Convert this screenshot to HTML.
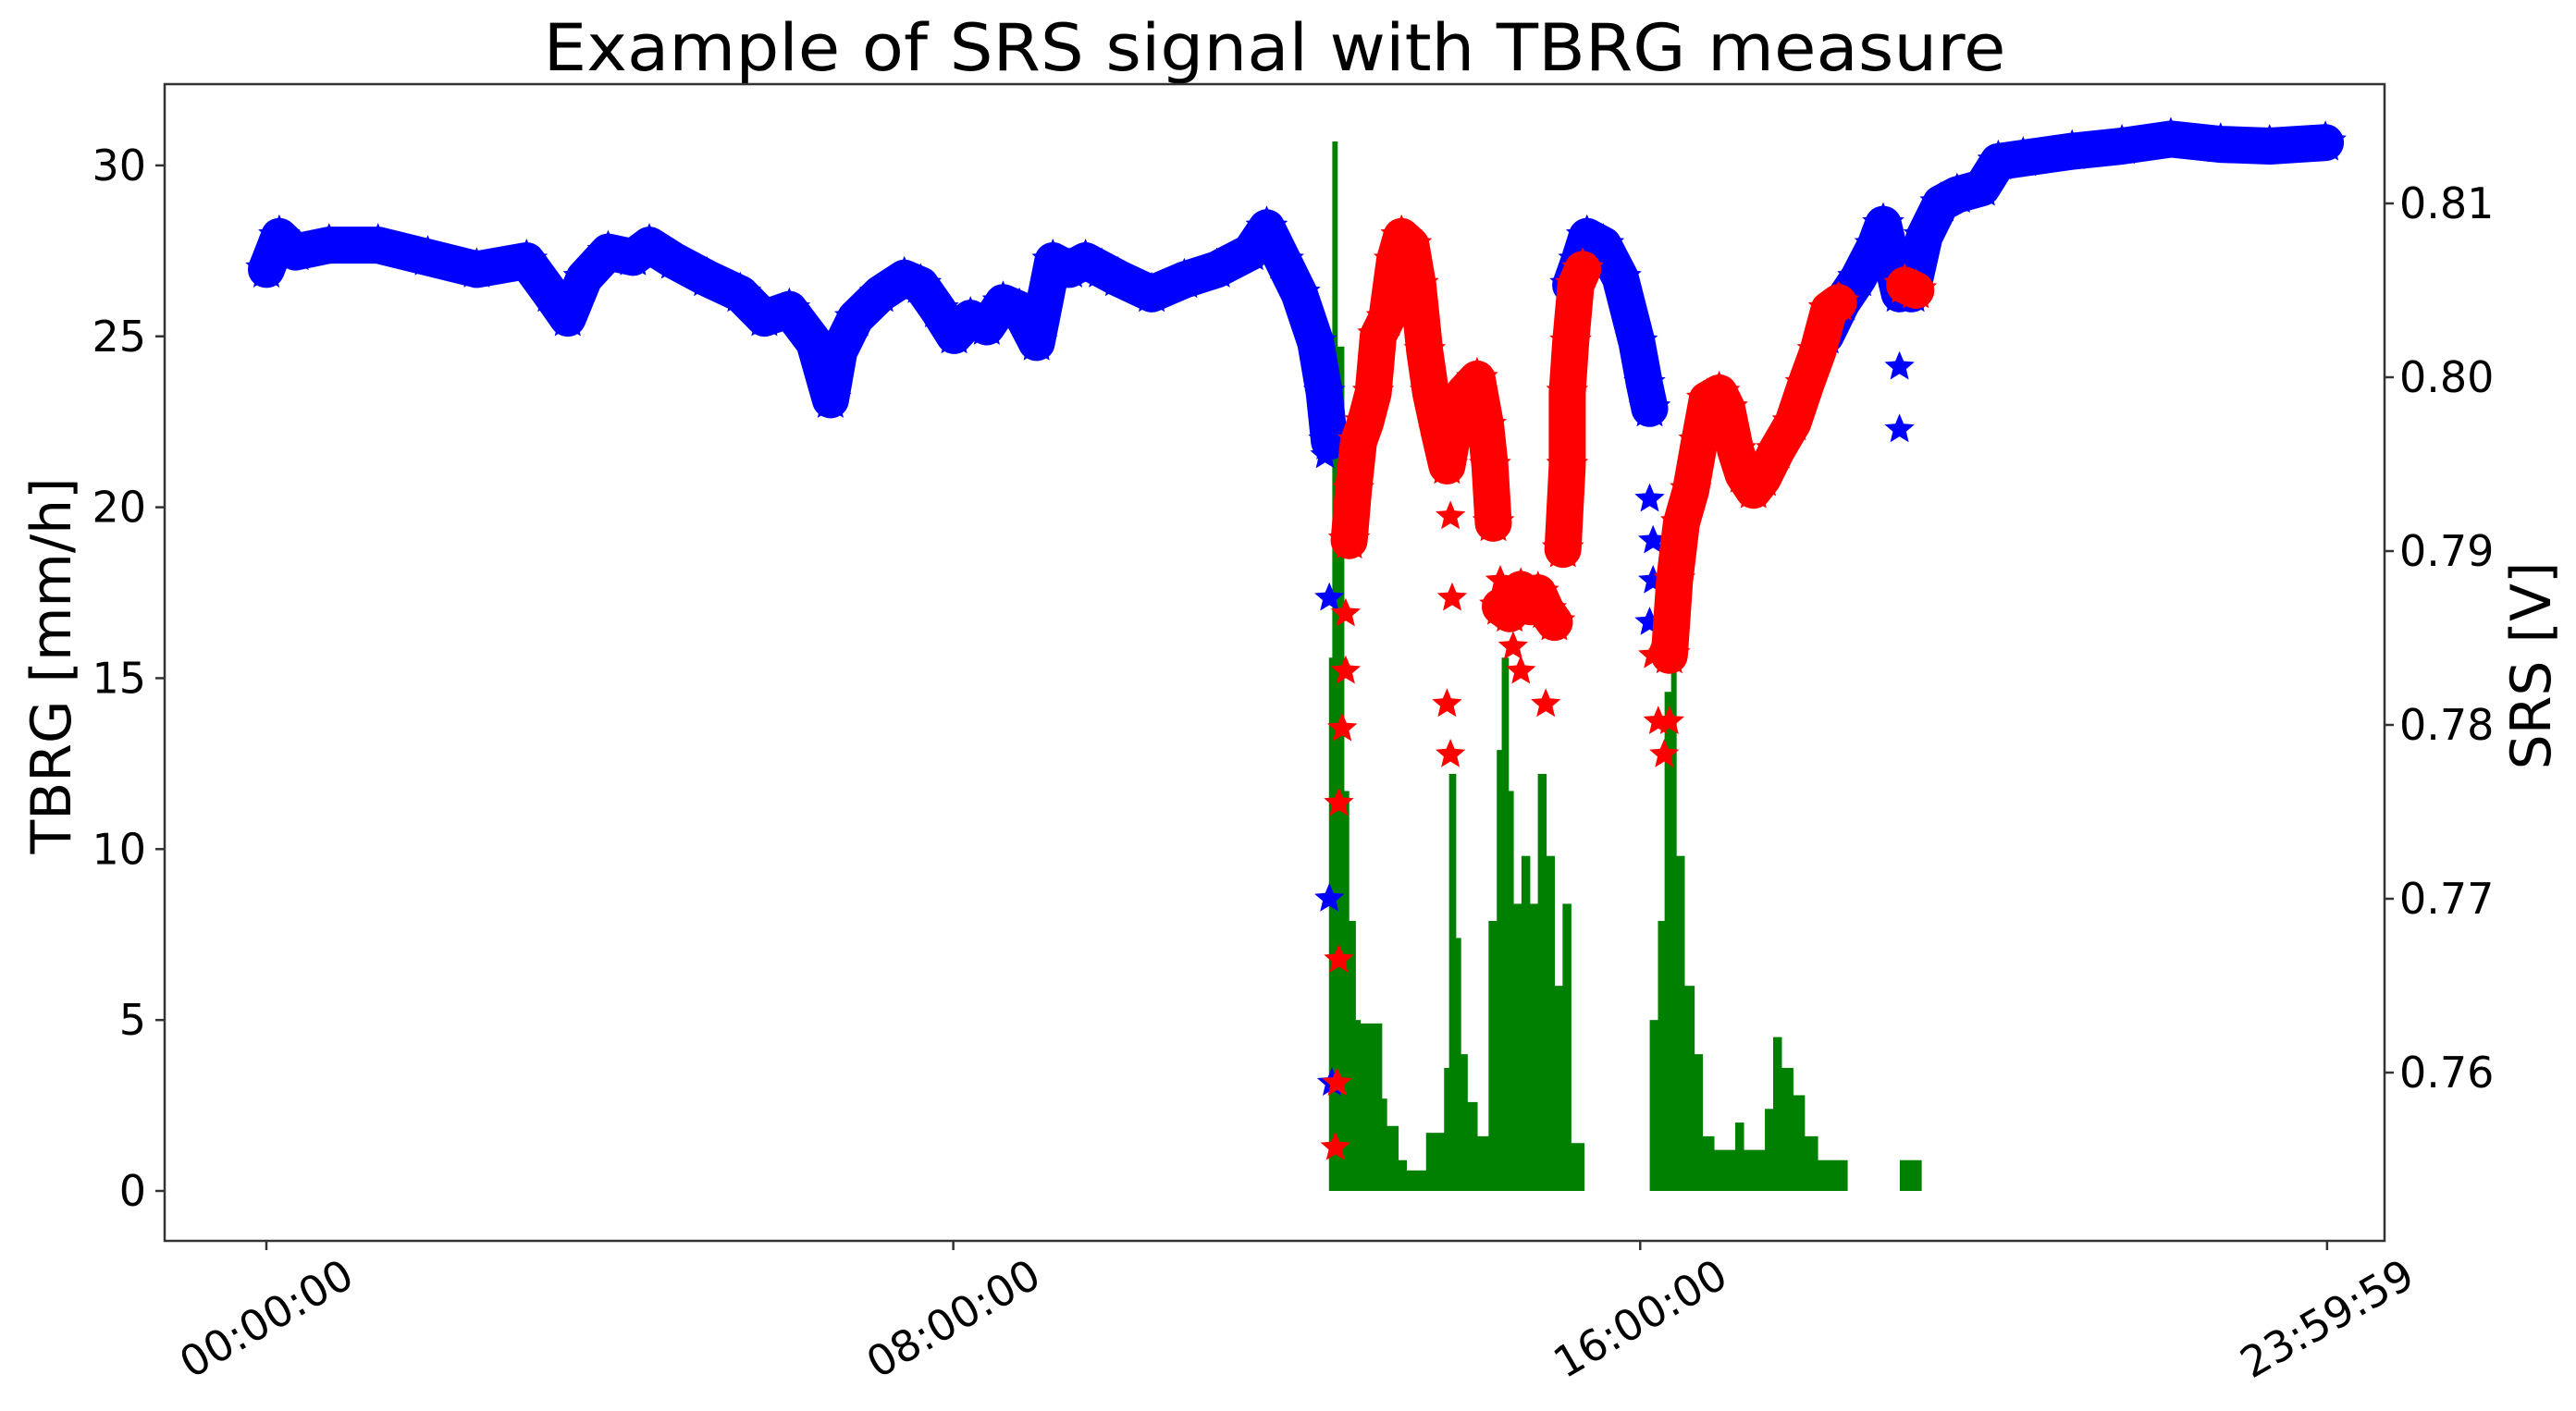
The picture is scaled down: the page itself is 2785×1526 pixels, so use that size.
<!DOCTYPE html>
<html><head><meta charset="utf-8"><style>
html,body{margin:0;padding:0;background:#fff;}
svg{display:block;font-family:"DejaVu Sans","Liberation Sans",sans-serif;}
</style></head><body>
<svg id="chart" width="2785" height="1526" viewBox="0 0 2785 1526" xmlns="http://www.w3.org/2000/svg">
<rect width="2785" height="1526" fill="#fff"/>
<text x="1378" y="76" font-size="70" text-anchor="middle" textLength="1581" lengthAdjust="spacingAndGlyphs">Example of SRS signal with TBRG measure</text>
<g id="bars"></g>
<g id="srs"></g>
<rect x="178" y="91" width="2400" height="1251" fill="none" stroke="#333" stroke-width="2.5"/>
<g id="axes"></g>
<text transform="translate(76,720) rotate(-90)" font-size="60" text-anchor="middle">TBRG [mm/h]</text>
<text transform="translate(2757,720) rotate(-90)" font-size="60" text-anchor="middle">SRS [V]</text>
</svg>
<script>
// TBRG rain bars (hours start/end, mm/h)
const barStart=[12.375,12.414,12.471,12.548,12.605,12.682,12.739,12.816,12.989,13.046,13.18,13.276,13.506,13.716,13.774,13.851,13.908,13.985,14.1,14.234,14.33,14.387,14.464,14.521,14.617,14.713,14.808,14.904,15.0,15.096,15.192,
16.111,16.207,16.284,16.36,16.418,16.513,16.628,16.724,16.858,17.107,17.203,17.452,17.548,17.644,17.778,17.912,18.065,19.023];
const barEnd=[12.414,12.471,12.548,12.605,12.682,12.739,12.816,12.989,13.046,13.18,13.276,13.506,13.716,13.774,13.851,13.908,13.985,14.1,14.234,14.33,14.387,14.464,14.521,14.617,14.713,14.808,14.904,15.0,15.096,15.192,15.345,
16.207,16.284,16.36,16.418,16.513,16.628,16.724,16.858,17.107,17.203,17.452,17.548,17.644,17.778,17.912,18.065,18.41,19.272];
const barValues=[15.6,30.7,24.7,11.7,7.9,5.0,4.9,4.9,2.7,1.9,0.9,0.6,1.7,3.6,12.2,7.4,4.0,2.6,1.6,7.9,12.9,15.6,11.7,8.4,9.8,8.4,12.2,9.8,6.0,8.4,1.4,
5.0,7.9,14.6,16.8,9.8,6.0,4.0,1.6,1.2,2.0,1.2,2.4,4.5,3.6,2.8,1.6,0.9,0.9];
// SRS blue (dry) points; segment id -1 = isolated marker
const blueHours=[0,.15,.34,.73,1.30,1.88,2.45,3.03,3.31,3.51,3.70,3.98,4.27,4.46,4.75,5.13,5.52,5.80,6.09,6.38,6.57,6.67,6.86,7.15,7.43,7.62,7.82,8.01,8.20,8.39,8.58,8.77,8.97,9.16,9.35,9.54,9.73,9.92,10.31,10.69,11.07,11.46,11.65,11.84,12.03,12.22,12.32,12.38,
12.32,12.33,12.38,12.38,12.41,
15.19,15.29,15.38,15.57,15.77,15.96,16.05,16.11,
16.11,16.15,16.15,16.11,
18.16,18.35,18.54,18.74,18.83,18.93,19.02,
19.02,19.02,
19.16,19.31,19.50,19.69,19.98,20.17,20.46,21.03,21.61,22.18,22.76,23.33,23.98];
const blueVolts=[.8062,.8081,.8072,.8076,.8076,.8069,.8062,.8067,.8048,.8034,.8057,.8072,.8069,.8076,.8067,.8057,.8048,.8034,.8039,.802,.7987,.8015,.8034,.8048,.8057,.8053,.8039,.8024,.8034,.8029,.8043,.8039,.802,.8067,.8062,.8067,.8062,.8057,.8048,.8056,.8062,.8072,.8086,.8067,.8048,.802,.7991,.7963,
.7968,.7955,.7873,.77,.7594,
.8053,.8067,.8081,.8076,.8057,.802,.7996,.7982,
.793,.7906,.7883,.7859,
.8024,.8043,.8057,.8076,.8088,.8067,.8048,
.8006,.797,
.8048,.8081,.81,.8105,.8109,.8124,.8126,.813,.8133,.8137,.8134,.8133,.8135];
const blueSeg=[0,0,0,0,0,0,0,0,0,0,0,0,0,0,0,0,0,0,0,0,0,0,0,0,0,0,0,0,0,0,0,0,0,0,0,0,0,0,0,0,0,0,0,0,0,0,0,0,
-1,-1,-1,-1,-1,
1,1,1,1,1,1,1,1,
-1,-1,-1,-1,
2,2,2,2,2,2,2,
-1,-1,
3,3,3,3,3,3,3,3,3,3,3,3,3];
// SRS red (raining) points
const redHours=[12.45,12.47,12.49,12.49,12.53,12.57,12.57,
12.61,12.66,12.72,12.80,12.89,12.95,13.05,13.14,13.22,13.33,13.41,13.49,13.56,13.66,13.75,13.85,13.95,14.10,14.20,14.25,14.29,
13.79,13.81,13.75,13.79,14.37,14.61,14.90,14.52,
14.37,14.48,14.61,14.72,14.81,14.90,15.0,
15.10,15.15,15.15,15.19,15.25,15.33,
16.15,16.21,16.28,16.34,
16.34,16.40,16.48,16.59,16.69,16.78,16.92,17.01,17.11,17.20,17.32,17.43,17.59,17.78,17.93,18.07,18.20,18.31,
19.08,19.21];
const redVolts=[.7557,.7594,.7665,.7755,.7798,.7831,.7864,
.7906,.7935,.7963,.7974,.7991,.8024,.8034,.8067,.8081,.8076,.8053,.8015,.7991,.7968,.7949,.7977,.7991,.7999,.7972,.7949,.7916,
.792,.7873,.7812,.7783,.7883,.7831,.7812,.7845,
.7868,.7864,.7878,.7868,.7876,.7866,.7859,
.7901,.7949,.7991,.802,.8053,.8062,
.784,.7802,.7783,.7802,
.784,.7883,.7916,.7935,.7963,.7987,.7991,.7982,.7958,.7944,.7935,.7942,.7958,.7974,.7996,.8015,.8039,.8043,
.8053,.805];
const redSeg=[-1,-1,-1,-1,-1,-1,-1,
0,0,0,0,0,0,0,0,0,0,0,0,0,0,0,0,0,0,0,0,0,
-1,-1,-1,-1,-1,-1,-1,-1,
1,1,1,1,1,1,1,
2,2,2,2,2,2,
-1,-1,-1,-1,
3,3,3,3,3,3,3,3,3,3,3,3,3,3,3,3,3,3,
4,4];
const leftTicks=[0,5,10,15,20,25,30];
const rightTicks=[0.76,0.77,0.78,0.79,0.80,0.81];
const rightTickLabels=["0.76","0.77","0.78","0.79","0.80","0.81"];
const xTicks=[0,8,16,23.9997];
const xTickLabels=["00:00:00","08:00:00","16:00:00","23:59:59"];

const NS="http://www.w3.org/2000/svg";
const xs=h=>288+h*92.83;
const yL=v=>1288-v*36.97;
const yR=v=>220+(0.81-v)*18800;
function mk(tag,attrs,parent){const e=document.createElementNS(NS,tag);for(const k in attrs)e.setAttribute(k,attrs[k]);parent.appendChild(e);return e;}
function star(cx,cy,r){let p=[];for(let i=0;i<10;i++){const a=-Math.PI/2+i*Math.PI/5;const rr=i%2?r*0.45:r;p.push((cx+rr*Math.cos(a)).toFixed(1)+","+(cy+rr*Math.sin(a)).toFixed(1));}return p.join(" ");}

const gb=document.getElementById('bars');
for(let i=0;i<barValues.length;i++){
  const x0=xs(barStart[i]),x1=xs(barEnd[i]);
  const r=mk('rect',{x:x0,y:yL(barValues[i]),width:Math.max(1,x1-x0+0.6),height:yL(0)-yL(barValues[i]),fill:'#008000'},gb);
  
  
}
const gs=document.getElementById('srs');
function drawSeries(hours,volts,seg,color,name){
  const segs={};
  for(let i=0;i<hours.length;i++){if(seg[i]>=0){(segs[seg[i]]=segs[seg[i]]||[]).push(xs(hours[i]).toFixed(1)+","+yR(volts[i]).toFixed(1));}}
  for(const k in segs){
    const pl=mk('polyline',{points:segs[k].join(" "),fill:'none',stroke:color,'stroke-width':40,'stroke-linejoin':'round','stroke-linecap':'round'},gs);
    
    
  }
  for(let i=0;i<hours.length;i++){
    const s=mk('polygon',{points:star(xs(hours[i]),yR(volts[i]),seg[i]>=0?24:17),fill:color},gs);
    
    
  }
}
drawSeries(blueHours,blueVolts,blueSeg,'#0000ff','srs-dry');
drawSeries(redHours,redVolts,redSeg,'#ff0000','srs-rain');

const ga=document.getElementById('axes');
leftTicks.forEach(v=>{
  const y=yL(v);
  const t=mk('line',{x1:168,x2:178,y1:y,y2:y,stroke:'#333','stroke-width':2.5},ga);
  
  
  const l=mk('text',{x:158,y:y+16,'font-size':46,'text-anchor':'end'},ga);
  l.textContent=String(v);
  
  
});
rightTicks.forEach((v,i)=>{
  const y=yR(v);
  const t=mk('line',{x1:2578,x2:2588,y1:y,y2:y,stroke:'#333','stroke-width':2.5},ga);
  
  
  const l=mk('text',{x:2594,y:y+16,'font-size':46,'text-anchor':'start'},ga);
  l.textContent=rightTickLabels[i];
  
  
});
xTicks.forEach((h,i)=>{
  const x=xs(h);
  const t=mk('line',{x1:x,x2:x,y1:1342,y2:1352,stroke:'#333','stroke-width':2.5},ga);
  
  
  const l=mk('text',{transform:'translate('+x+',1426) rotate(-30)','font-size':46,'text-anchor':'middle',y:16},ga);
  l.textContent=xTickLabels[i];
  
  
});
</script>
</body></html>
